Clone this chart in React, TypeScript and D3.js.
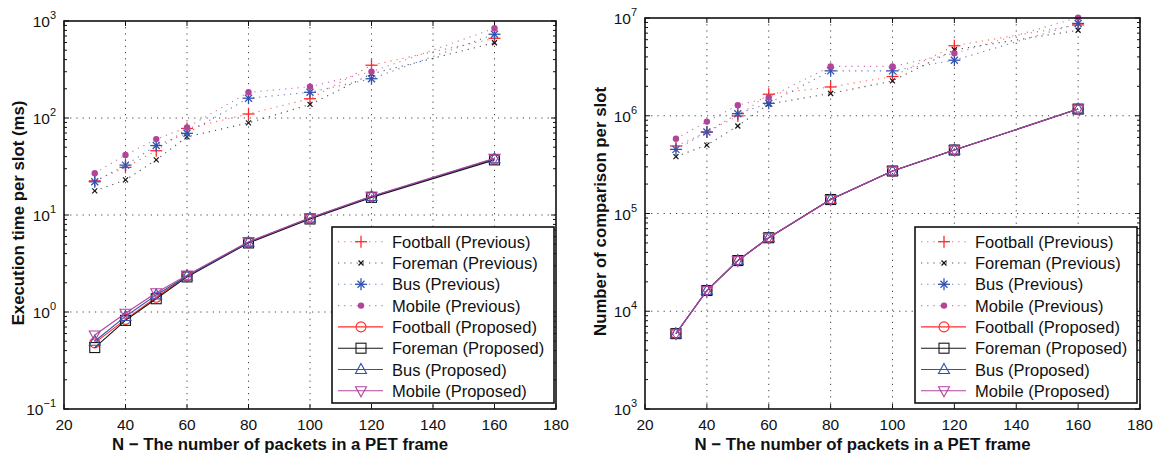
import React, { useRef, useEffect } from "react";
import * as d3 from "d3";

// x values (number of packets N) and tick labels
const packets = [30, 40, 50, 60, 80, 100, 120, 160];
const xTicks = [20, 40, 60, 80, 100, 120, 140, 160, 180];
const timeExponents = [-1, 0, 1, 2, 3];
const cmpExponents = [3, 4, 5, 6, 7];

const seriesNames = ["Football", "Foreman", "Bus", "Mobile"];
const seriesColors = ["#ff2b2b", "#161616", "#3152ad", "#b2449c"];
const prevMarkers = ["plus", "cross", "star", "dot"];
const propMarkers = ["circle", "square", "triangle", "triangleDown"];

// execution time per slot (ms) - previous
const footballPrevTime = [22.5, 31, 46, 78, 110, 158, 350, 663];
const foremanPrevTime = [17.7, 23, 37, 64, 89, 138, 285, 597];
const busPrevTime = [22, 32.7, 52, 69.5, 160, 184, 254, 730];
const mobilePrevTime = [27, 41.6, 60.6, 80, 184, 210, 300, 841];

// execution time per slot (ms) - proposed
const footballPropTime = [0.48, 0.84, 1.42, 2.35, 5.2, 9.2, 15.4, 37.5];
const foremanPropTime = [0.43, 0.82, 1.37, 2.3, 5.15, 9.1, 15.2, 37];
const busPropTime = [0.5, 0.9, 1.5, 2.35, 5.25, 9.3, 15.5, 38];
const mobilePropTime = [0.58, 0.97, 1.58, 2.4, 5.3, 9.35, 15.6, 38.5];

// number of comparison per slot - previous
const footballPrevCmp = [490e3, 680e3, 995e3, 1.66e6, 1.97e6, 2.52e6, 5.2e6, 8.5e6];
const foremanPrevCmp = [382e3, 501e3, 786e3, 1.32e6, 1.69e6, 2.27e6, 4.73e6, 7.5e6];
const busPrevCmp = [453e3, 682e3, 1.05e6, 1.34e6, 2.88e6, 2.88e6, 3.7e6, 8.8e6];
const mobilePrevCmp = [583e3, 871e3, 1.28e6, 1.54e6, 3.2e6, 3.2e6, 4.35e6, 10.1e6];

// number of comparison per slot - proposed
const footballPropCmp = [5.9e3, 16.3e3, 33e3, 56.5e3, 139e3, 272e3, 446e3, 1.17e6];
const foremanPropCmp = [5.9e3, 16.3e3, 33e3, 56.5e3, 139e3, 272e3, 446e3, 1.17e6];
const busPropCmp = [5.9e3, 16.3e3, 33e3, 56.5e3, 139e3, 272e3, 446e3, 1.17e6];
const mobilePropCmp = [5.9e3, 16.3e3, 33e3, 56.5e3, 139e3, 272e3, 446e3, 1.17e6];

const FONT = "'Liberation Sans', Arial, Helvetica, sans-serif";

const panels = [
  {
    left: 64,
    right: 556,
    top: 21,
    bottom: 409,
    exps: timeExponents,
    ylabel: "Execution time per slot (ms)",
    ylabelX: 18,
    prev: [footballPrevTime, foremanPrevTime, busPrevTime, mobilePrevTime],
    prop: [footballPropTime, foremanPropTime, busPropTime, mobilePropTime],
    legendX: 332,
  },
  {
    left: 645,
    right: 1140,
    top: 18,
    bottom: 409,
    exps: cmpExponents,
    ylabel: "Number of comparison per slot",
    ylabelX: 600,
    prev: [footballPrevCmp, foremanPrevCmp, busPrevCmp, mobilePrevCmp],
    prop: [footballPropCmp, foremanPropCmp, busPropCmp, mobilePropCmp],
    legendX: 915,
  },
];

// draw one matlab-ish marker
function drawMarker(g, type, cx, cy, color) {
  const m = g.append("g").attr("transform", "translate(" + cx + "," + cy + ")");
  const line = (x1, y1, x2, y2, w) =>
    m.append("line")
      .attr("x1", x1).attr("y1", y1).attr("x2", x2).attr("y2", y2)
      .attr("stroke", color).attr("stroke-width", w);
  if (type === "plus") {
    line(-6, 0, 6, 0, 1.3);
    line(0, -6, 0, 6, 1.3);
  } else if (type === "cross") {
    line(-2.5, -2.5, 2.5, 2.5, 1.2);
    line(-2.5, 2.5, 2.5, -2.5, 1.2);
  } else if (type === "star") {
    line(-6, 0, 6, 0, 1.3);
    line(0, -6, 0, 6, 1.3);
    line(-3.5, -3.5, 3.5, 3.5, 1.3);
    line(-3.5, 3.5, 3.5, -3.5, 1.3);
  } else if (type === "dot") {
    m.append("circle").attr("r", 3.2).attr("fill", color);
  } else if (type === "circle") {
    m.append("circle").attr("r", 5).attr("fill", "none").attr("stroke", color).attr("stroke-width", 1.1);
  } else if (type === "square") {
    m.append("rect").attr("x", -5).attr("y", -5).attr("width", 10).attr("height", 10)
      .attr("fill", "none").attr("stroke", color).attr("stroke-width", 1.1);
  } else if (type === "triangle") {
    m.append("path").attr("d", "M0,-6L5.5,4L-5.5,4Z")
      .attr("fill", "none").attr("stroke", color).attr("stroke-width", 1.1);
  } else if (type === "triangleDown") {
    m.append("path").attr("d", "M0,6L5.5,-4L-5.5,-4Z")
      .attr("fill", "none").attr("stroke", color).attr("stroke-width", 1.1);
  }
}

const App = () => {
  const d3Container = useRef(null);

  useEffect(() => {
    if (!d3Container.current) return;
    const svg = d3.select(d3Container.current);
    svg.selectAll("*").remove();

    panels.forEach((p) => {
      const x = d3.scaleLinear().domain([20, 180]).range([p.left, p.right]);
      const y = d3
        .scaleLog()
        .domain([Math.pow(10, p.exps[0]), Math.pow(10, p.exps[p.exps.length - 1])])
        .range([p.bottom, p.top]);

      const g = svg.append("g");

      // grid
      xTicks.slice(1, -1).forEach((t) => {
        g.append("line")
          .attr("x1", x(t)).attr("x2", x(t)).attr("y1", p.top).attr("y2", p.bottom)
          .attr("stroke", "#444").attr("stroke-width", 1).attr("stroke-dasharray", "1.2,5");
      });
      p.exps.slice(1, -1).forEach((e) => {
        const yy = y(Math.pow(10, e));
        g.append("line")
          .attr("x1", p.left).attr("x2", p.right).attr("y1", yy).attr("y2", yy)
          .attr("stroke", "#444").attr("stroke-width", 1).attr("stroke-dasharray", "1.2,5");
      });

      // ticks on all four sides
      xTicks.forEach((t) => {
        const xx = x(t);
        g.append("line").attr("x1", xx).attr("x2", xx).attr("y1", p.bottom).attr("y2", p.bottom - 5)
          .attr("stroke", "#111");
        g.append("line").attr("x1", xx).attr("x2", xx).attr("y1", p.top).attr("y2", p.top + 5)
          .attr("stroke", "#111");
        g.append("text")
          .attr("x", xx).attr("y", p.bottom + 21)
          .attr("text-anchor", "middle")
          .attr("font-family", FONT).attr("font-size", 15.5).attr("fill", "#111")
          .text(t);
      });
      for (let i = 0; i < p.exps.length; i++) {
        const e = p.exps[i];
        const yy = y(Math.pow(10, e));
        [p.left, p.right].forEach((ax) => {
          const dir = ax === p.left ? 1 : -1;
          g.append("line").attr("x1", ax).attr("x2", ax + dir * 5).attr("y1", yy).attr("y2", yy)
            .attr("stroke", "#111");
          if (i < p.exps.length - 1) {
            for (let k = 2; k <= 9; k++) {
              const ym = y(k * Math.pow(10, e));
              g.append("line").attr("x1", ax).attr("x2", ax + dir * 3).attr("y1", ym).attr("y2", ym)
                .attr("stroke", "#111");
            }
          }
        });
        const label = g.append("text")
          .attr("x", p.left - 8).attr("y", yy + 6)
          .attr("text-anchor", "end")
          .attr("font-family", FONT).attr("font-size", 15.5).attr("fill", "#111");
        label.append("tspan").text("10");
        label.append("tspan").attr("dy", -8).attr("font-size", 11).text(String(e).replace("-", "\u2212"));
      }

      // previous (dotted) and proposed (solid) series
      const lineGen = d3.line().x((d) => x(d[0])).y((d) => y(d[1]));
      p.prev.forEach((vals, i) => {
        const pts = packets.map((n, j) => [n, vals[j]]);
        g.append("path").attr("d", lineGen(pts)).attr("fill", "none")
          .attr("stroke", seriesColors[i]).attr("stroke-width", 1.1)
          .attr("stroke-opacity", 0.75).attr("stroke-dasharray", "1.2,5");
        pts.forEach((d) => drawMarker(g, prevMarkers[i], x(d[0]), y(d[1]), seriesColors[i]));
      });
      p.prop.forEach((vals, i) => {
        const pts = packets.map((n, j) => [n, vals[j]]);
        g.append("path").attr("d", lineGen(pts)).attr("fill", "none")
          .attr("stroke", seriesColors[i]).attr("stroke-width", 1.1);
        pts.forEach((d) => drawMarker(g, propMarkers[i], x(d[0]), y(d[1]), seriesColors[i]));
      });

      // axes box
      g.append("rect")
        .attr("x", p.left).attr("y", p.top)
        .attr("width", p.right - p.left).attr("height", p.bottom - p.top)
        .attr("fill", "none").attr("stroke", "#111").attr("stroke-width", 1.6);

      // legend
      const lx = p.legendX;
      const ly = 227;
      const lg = g.append("g");
      lg.append("rect").attr("x", lx).attr("y", ly).attr("width", 222).attr("height", 176)
        .attr("fill", "white").attr("stroke", "#111").attr("stroke-width", 1.6);
      const rows = [];
      seriesNames.forEach((s, i) => rows.push({ name: s + " (Previous)", c: seriesColors[i], m: prevMarkers[i], dotted: true }));
      seriesNames.forEach((s, i) => rows.push({ name: s + " (Proposed)", c: seriesColors[i], m: propMarkers[i], dotted: false }));
      rows.forEach((r, i) => {
        const ry = ly + 14.7 + i * 21.3;
        lg.append("line").attr("x1", lx + 6).attr("x2", lx + 51).attr("y1", ry).attr("y2", ry)
          .attr("stroke", r.c).attr("stroke-width", 1.1)
          .attr("stroke-opacity", r.dotted ? 0.75 : 1)
          .attr("stroke-dasharray", r.dotted ? "1.2,5" : null);
        drawMarker(lg, r.m, lx + 29, ry, r.c);
        lg.append("text").attr("x", lx + 60).attr("y", ry + 6)
          .attr("font-family", FONT).attr("font-size", 16.5).attr("fill", "#111")
          .text(r.name);
      });

      // axis labels
      g.append("text")
        .attr("x", (p.left + p.right) / 2 - 30).attr("y", 450)
        .attr("text-anchor", "middle")
        .attr("font-family", FONT).attr("font-size", 16.8).attr("font-weight", "bold").attr("fill", "#111")
        .text("N \u2212 The number of packets in a PET frame");
      g.append("text")
        .attr("transform", "translate(" + p.ylabelX + "," + ((p.top + p.bottom) / 2 - 2) + ") rotate(-90)")
        .attr("y", 6)
        .attr("text-anchor", "middle")
        .attr("font-family", FONT).attr("font-size", 16.8).attr("font-weight", "bold").attr("fill", "#111")
        .text(p.ylabel);
    });
  }, []);

  return (
    <div style={{ position: "absolute", left: 0, top: 0, width: 1163, height: 456, background: "white" }}>
      <svg width={1163} height={456} ref={d3Container} />
    </div>
  );
};

export default App;
